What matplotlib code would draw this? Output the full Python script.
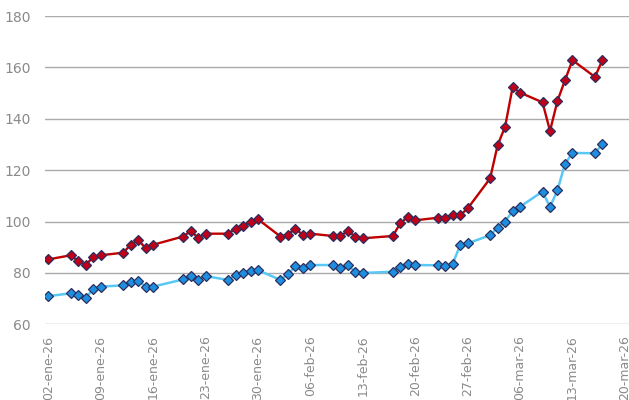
import matplotlib
matplotlib.use("Agg")
import matplotlib.pyplot as plt
import numpy as np
from datetime import datetime, timedelta

dates = ["2026-01-02", "2026-01-05", "2026-01-06", "2026-01-07", "2026-01-08", "2026-01-09",
         "2026-01-12", "2026-01-13", "2026-01-14", "2026-01-15", "2026-01-16",
         "2026-01-20", "2026-01-21", "2026-01-22", "2026-01-23",
         "2026-01-26", "2026-01-27", "2026-01-28", "2026-01-29", "2026-01-30",
         "2026-02-02", "2026-02-03", "2026-02-04", "2026-02-05", "2026-02-06",
         "2026-02-09", "2026-02-10", "2026-02-11", "2026-02-12", "2026-02-13",
         "2026-02-17", "2026-02-18", "2026-02-19", "2026-02-20",
         "2026-02-23", "2026-02-24", "2026-02-25", "2026-02-26", "2026-02-27",
         "2026-03-02", "2026-03-03", "2026-03-04", "2026-03-05", "2026-03-06",
         "2026-03-09", "2026-03-10", "2026-03-11", "2026-03-12", "2026-03-13",
         "2026-03-16", "2026-03-17"]

red_values = [85.3, 86.9, 84.5, 83.2, 86.2, 86.9,
              87.9, 91.0, 92.8, 89.7, 91.0,
              94.2, 96.3, 93.8, 95.3,
              95.3, 97.3, 98.3, 99.9, 100.9,
              94.2, 94.9, 97.3, 94.7, 95.3,
              94.4, 94.4, 96.3, 94.2, 93.5,
              94.4, 99.3, 101.8, 100.5,
              101.5, 101.3, 102.6, 102.5, 105.1,
              116.8, 129.7, 136.9, 152.2, 150.2,
              146.4, 135.3, 147.0, 155.0, 162.8,
              156.3, 162.8]

blue_values = [71.0, 72.1, 71.3, 70.2, 73.9, 74.7,
               75.2, 76.6, 76.9, 74.7, 74.7,
               77.5, 78.8, 77.1, 78.8,
               77.3, 79.1, 80.0, 80.9, 81.1,
               77.3, 79.5, 82.7, 81.9, 83.1,
               83.1, 82.1, 83.0, 80.4, 80.0,
               80.5, 82.3, 83.6, 83.1,
               83.0, 82.7, 83.6, 90.8, 91.5,
               94.7, 97.7, 100.0, 104.1, 105.8,
               111.7, 105.7, 112.2, 122.5, 126.7,
               126.6, 130.1]

tick_dates = ["2026-01-02", "2026-01-09", "2026-01-16", "2026-01-23", "2026-01-30",
              "2026-02-06", "2026-02-13", "2026-02-20", "2026-02-27", "2026-03-06",
              "2026-03-13", "2026-03-20"]
tick_labels = ["02-ene-26", "09-ene-26", "16-ene-26", "23-ene-26", "30-ene-26",
               "06-feb-26", "13-feb-26", "20-feb-26", "27-feb-26", "06-mar-26",
               "13-mar-26", "20-mar-26"]
y_ticks = [60, 80, 100, 120, 140, 160, 180]

x = [datetime.strptime(d, "%Y-%m-%d") for d in dates]
xt = [datetime.strptime(d, "%Y-%m-%d") for d in tick_dates]

fig = plt.figure(figsize=(6.29, 4.0), dpi=100)
ax = fig.add_axes([0.0715, 0.189, 0.9285, 0.771])

grid_color = "#ABABAB"
for v in y_ticks:
    ax.axhline(v, color=grid_color, lw=1.0, zorder=1)

ax.plot(x, red_values, color="#C00000", lw=1.7, marker="D", markersize=5,
        markerfacecolor="#C00018", markeredgecolor="#2B2F5E", markeredgewidth=0.9, zorder=3)
ax.plot(x, blue_values, color="#5AC8F5", lw=1.8, marker="D", markersize=5,
        markerfacecolor="#1E8FE0", markeredgecolor="#2B2F5E", markeredgewidth=0.9, zorder=3)

ax.set_ylim(60, 180)
ax.set_yticks(y_ticks)
ax.set_xlim(xt[0] - timedelta(days=0.45), xt[-1] + timedelta(days=0.55))
ax.set_xticks(xt)
ax.set_xticklabels(tick_labels, rotation=90, fontsize=9, color="#8A8A8A",
                   family="DejaVu Sans")
for lab in ax.get_yticklabels():
    lab.set_fontsize(10)
    lab.set_color("#8A8A8A")
ax.tick_params(axis="y", length=0, pad=10)
ax.tick_params(axis="x", length=0, pad=8)
for s in ax.spines.values():
    s.set_visible(False)

fig.savefig("out.png", dpi=100)
